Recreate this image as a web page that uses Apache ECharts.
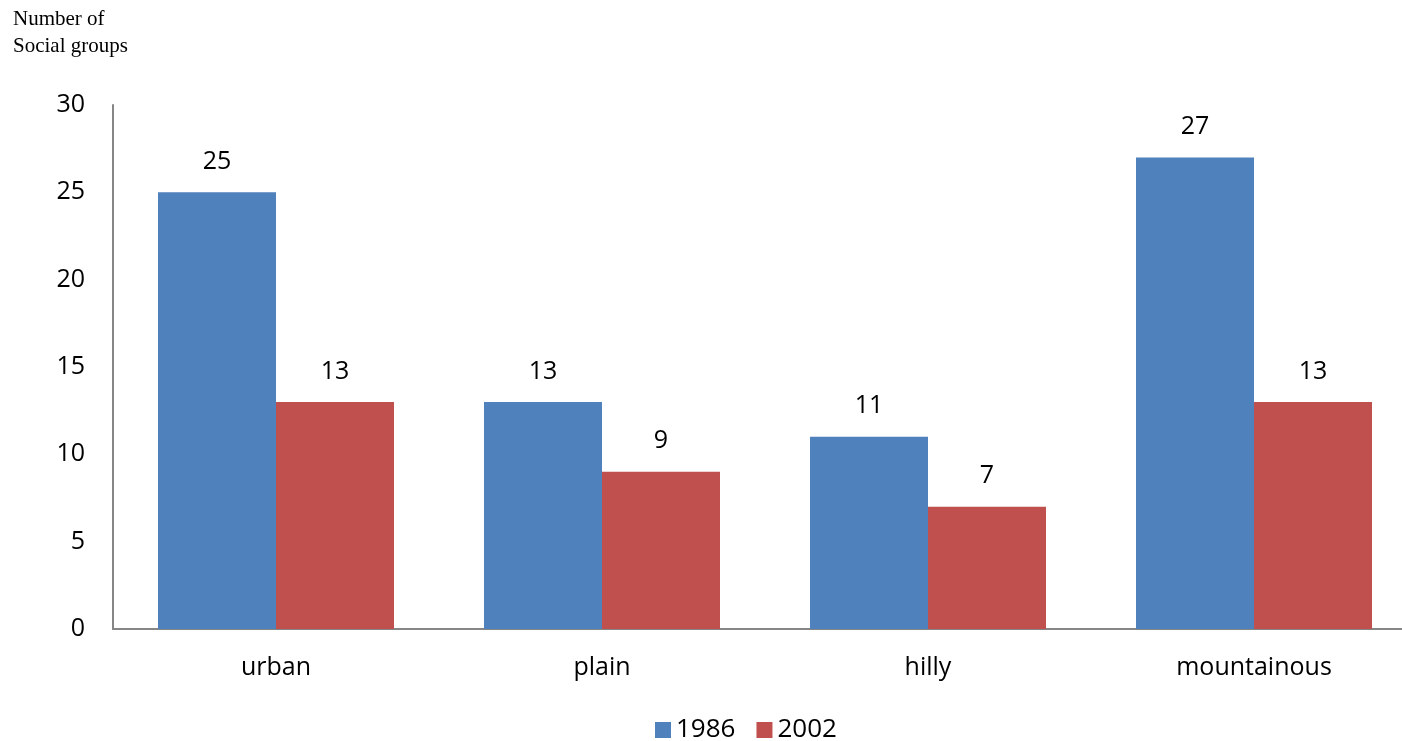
<!DOCTYPE html>
<html>
<head>
<meta charset="utf-8">
<script src="https://cdn.jsdelivr.net/npm/echarts@6/dist/echarts.min.js"></script>
<style>
html,body{margin:0;padding:0;background:#fff;overflow:hidden;width:1402px;height:741px;}
#chart{width:1418px;height:741px;}
</style>
</head>
<body>
<div id="chart"></div>
<script>
const categories = ['urban', 'plain', 'hilly', 'mountainous'];
const series1986 = [25, 13, 11, 27];
const series2002 = [13, 9, 7, 13];
const seriesNames = ['1986', '2002'];

const chart = echarts.init(document.getElementById('chart'), null, {renderer: 'canvas'});
const labelStyle = {show: true, position: 'top', distance: 18, fontSize: 25, color: '#000', fontFamily: 'Open Sans'};
chart.setOption({
  animation: false,
  title: {
    text: 'Number of\nSocial groups',
    left: 8, top: 1,
    textStyle: {fontFamily: 'Liberation Serif', fontSize: 21, fontWeight: 'normal', color: '#000', lineHeight: 27}
  },
  legend: {
    data: seriesNames,
    top: 712, left: 650,
    itemWidth: 16, itemHeight: 16, itemGap: 21,
    icon: 'rect',
    textStyle: {fontFamily: 'Open Sans', fontSize: 26, color: '#000'}
  },
  grid: {left: 113, top: 105, width: 1304, height: 524, containLabel: false},
  xAxis: {
    type: 'category', data: categories,
    axisLine: {lineStyle: {color: '#868686', width: 2}},
    axisTick: {show: false},
    axisLabel: {fontFamily: 'Open Sans', fontSize: 25, color: '#000', margin: 26}
  },
  yAxis: {
    type: 'value', min: 0, max: 30, interval: 5,
    axisLine: {show: true, lineStyle: {color: '#868686', width: 2}},
    axisTick: {show: false},
    splitLine: {show: false},
    axisLabel: {fontFamily: 'Open Sans', fontSize: 25, color: '#000', margin: 28}
  },
  series: [
    {name: seriesNames[0], type: 'bar', data: series1986, barWidth: 118, barGap: '0%', itemStyle: {color: '#4F81BD'}, label: labelStyle},
    {name: seriesNames[1], type: 'bar', data: series2002, barWidth: 118, barGap: '0%', itemStyle: {color: '#C0504D'}, label: labelStyle}
  ]
});
</script>
</body>
</html>
